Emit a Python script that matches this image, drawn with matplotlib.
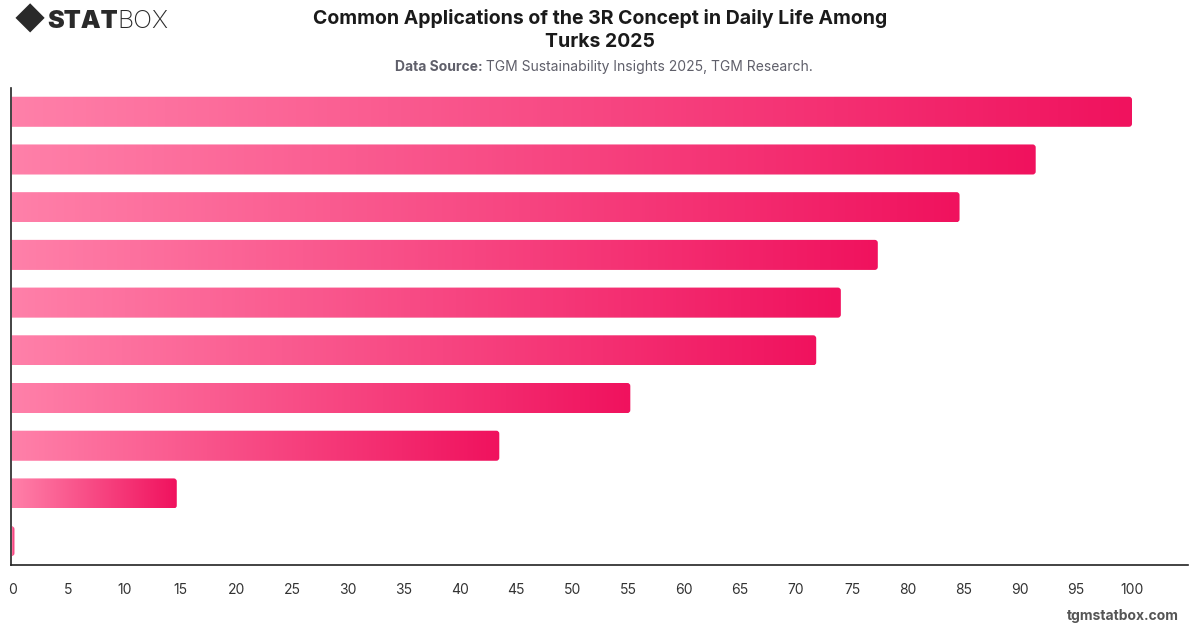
import numpy as np
import matplotlib.pyplot as plt
from matplotlib.patches import FancyBboxPatch
from matplotlib.colors import LinearSegmentedColormap

plt.rcParams['font.family'] = ['Inter', 'DejaVu Sans']

# values, top bar first (no category labels shown)
values = [100.0, 91.4, 84.6, 77.3, 74.0, 71.8, 55.2, 43.5, 14.7, 0.2]
xticks = list(range(0, 101, 5))

title = "Common Applications of the 3R Concept in Daily Life Among\nTurks 2025"
source_bold = "Data Source:"
source_text = " TGM Sustainability Insights 2025, TGM Research."

grad = LinearSegmentedColormap.from_list("pinks", ["#ff80a9", "#f0125e"])

fig = plt.figure(figsize=(12, 6.28), dpi=100)
ax = fig.add_axes([0.0092, 0.1003, 0.9808, 0.7597])

ypos = np.arange(len(values))
bars = ax.barh(ypos, values, height=0.63, color='none', edgecolor='none')

# px -> data ratios for rounded corners
x_per_px = 105 / (0.9808 * 1200)
y_per_px = 10 / (0.7597 * 628)
r = 3 * x_per_px
gradient = np.linspace(0, 1, 256).reshape(1, -1)

for rect in bars:
    x0, y0 = rect.get_x(), rect.get_y()
    w, h = rect.get_width(), rect.get_height()
    patch = FancyBboxPatch((x0 - 1, y0), w + 1, h,
                           boxstyle=f"round,pad=0,rounding_size={r}",
                           mutation_aspect=y_per_px / x_per_px,
                           facecolor='none', edgecolor='none')
    ax.add_patch(patch)
    im = ax.imshow(gradient, cmap=grad, aspect='auto',
                   extent=[x0, x0 + max(w, 0.01), y0 + h, y0], zorder=2)
    im.set_clip_path(patch)

ax.set_xlim(-0.1, 105)
ax.set_ylim(len(values) - 0.5, -0.5)
ax.set_xticks(xticks)
ax.set_xticklabels([str(t) for t in xticks])
ax.set_yticks([])
ax.tick_params(axis='x', length=0, pad=13, labelsize=10, labelcolor='#333333')
for s in ['top', 'right']:
    ax.spines[s].set_visible(False)
for s in ['left', 'bottom']:
    ax.spines[s].set_color('#222222')
    ax.spines[s].set_linewidth(1.2)

fig.text(0.5, 0.986, title, ha='center', va='top', fontsize=14,
         fontweight='bold', color='#1a1a1a', linespacing=1.4)
t1 = fig.text(0.329, 0.893, source_bold, ha='left', va='center', fontsize=10,
              fontweight='bold', color='#5f5f6a')
fig.canvas.draw()
bb = t1.get_window_extent()
fig.text(bb.x1 / fig.bbox.width, 0.893, source_text, ha='left', va='center',
         fontsize=10, color='#5f5f6a')

fig.text(0.982, 0.008, "tgmstatbox.com", ha='right', va='bottom', fontsize=10,
         fontweight='bold', color='#555555')

# logo
fig.text(0.025, 0.966, "\u25C6", ha='center', va='center', fontsize=22, color='#2a2a2a')
s1 = fig.text(0.039, 0.966, "STAT", ha='left', va='center', fontsize=18,
              fontweight='black', color='#2a2a2a')
fig.canvas.draw()
bb = s1.get_window_extent()
fig.text(bb.x1 / fig.bbox.width, 0.966, "BOX", ha='left', va='center',
         fontsize=18, fontweight='light', color='#2a2a2a')

fig.savefig('out.png', dpi=100, facecolor='white')
